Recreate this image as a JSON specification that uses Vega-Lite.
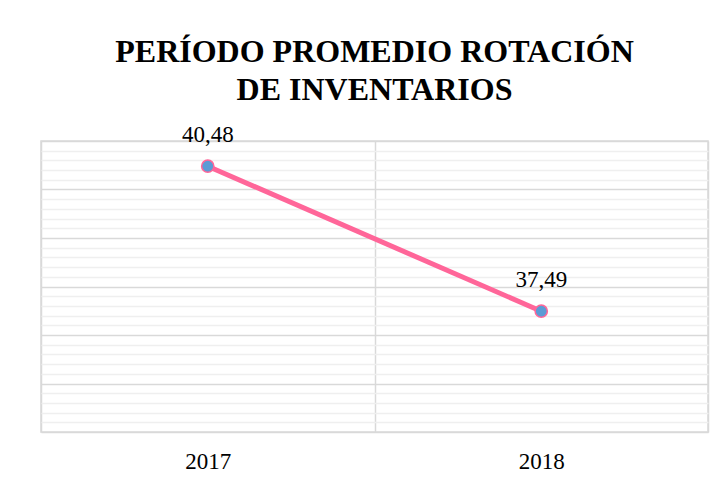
{
  "$schema": "https://vega.github.io/schema/vega-lite/v6.json",
  "width": 667,
  "height": 291,
  "autosize": {"type": "none"},
  "padding": {"left": 41, "top": 141, "right": 16, "bottom": 51},
  "background": "white",
  "title": {
    "text": ["PERÍODO PROMEDIO ROTACIÓN", "DE INVENTARIOS"],
    "font": "Liberation Serif",
    "fontSize": 32,
    "fontWeight": "bold",
    "color": "#000000",
    "anchor": "middle",
    "lineHeight": 38,
    "offset": 17
  },
  "data": {
    "values": [
      {"year": "2017", "value": 40.48, "label": "40,48"},
      {"year": "2018", "value": 37.49, "label": "37,49"}
    ]
  },
  "encoding": {
    "x": {
      "field": "year",
      "type": "ordinal",
      "scale": {"type": "band", "paddingInner": 0, "paddingOuter": 0},
      "axis": {
        "title": null,
        "labelAngle": 0,
        "domain": false,
        "ticks": false,
        "tickSize": 0,
        "tickBand": "extent",
        "grid": true,
        "gridColor": "#d9d9d9",
        "gridWidth": 1.5,
        "labelFont": "Liberation Serif",
        "labelFontSize": 23,
        "labelColor": "#000000",
        "labelPadding": 18
      }
    },
    "y": {
      "field": "value",
      "type": "quantitative",
      "scale": {"domain": [35, 41], "nice": false, "zero": false},
      "axis": {
        "title": null,
        "labels": false,
        "domain": false,
        "ticks": false,
        "grid": true,
        "values": [35, 35.2, 35.4, 35.6, 35.8, 36, 36.2, 36.4, 36.6, 36.8, 37, 37.2, 37.4, 37.6, 37.8, 38, 38.2, 38.4, 38.6, 38.8, 39, 39.2, 39.4, 39.6, 39.8, 40, 40.2, 40.4, 40.6, 40.8, 41],
        "gridColor": {"condition": {"test": "abs(datum.value - round(datum.value)) < 0.01", "value": "#d9d9d9"}, "value": "#efefef"},
        "gridWidth": 1.5
      }
    }
  },
  "layer": [
    {
      "mark": {"type": "line", "color": "#FF6699", "strokeWidth": 5}
    },
    {
      "mark": {"type": "point", "filled": true, "fill": "#5B9BD5", "stroke": "#FF6699", "strokeWidth": 1.5, "size": 150, "opacity": 1}
    },
    {
      "mark": {"type": "text", "font": "Liberation Serif", "fontSize": 23, "color": "#000000", "baseline": "alphabetic", "dy": -24},
      "encoding": {"text": {"field": "label", "type": "nominal"}}
    }
  ],
  "config": {
    "view": {"stroke": "#d9d9d9", "strokeWidth": 1.5}
  }
}
